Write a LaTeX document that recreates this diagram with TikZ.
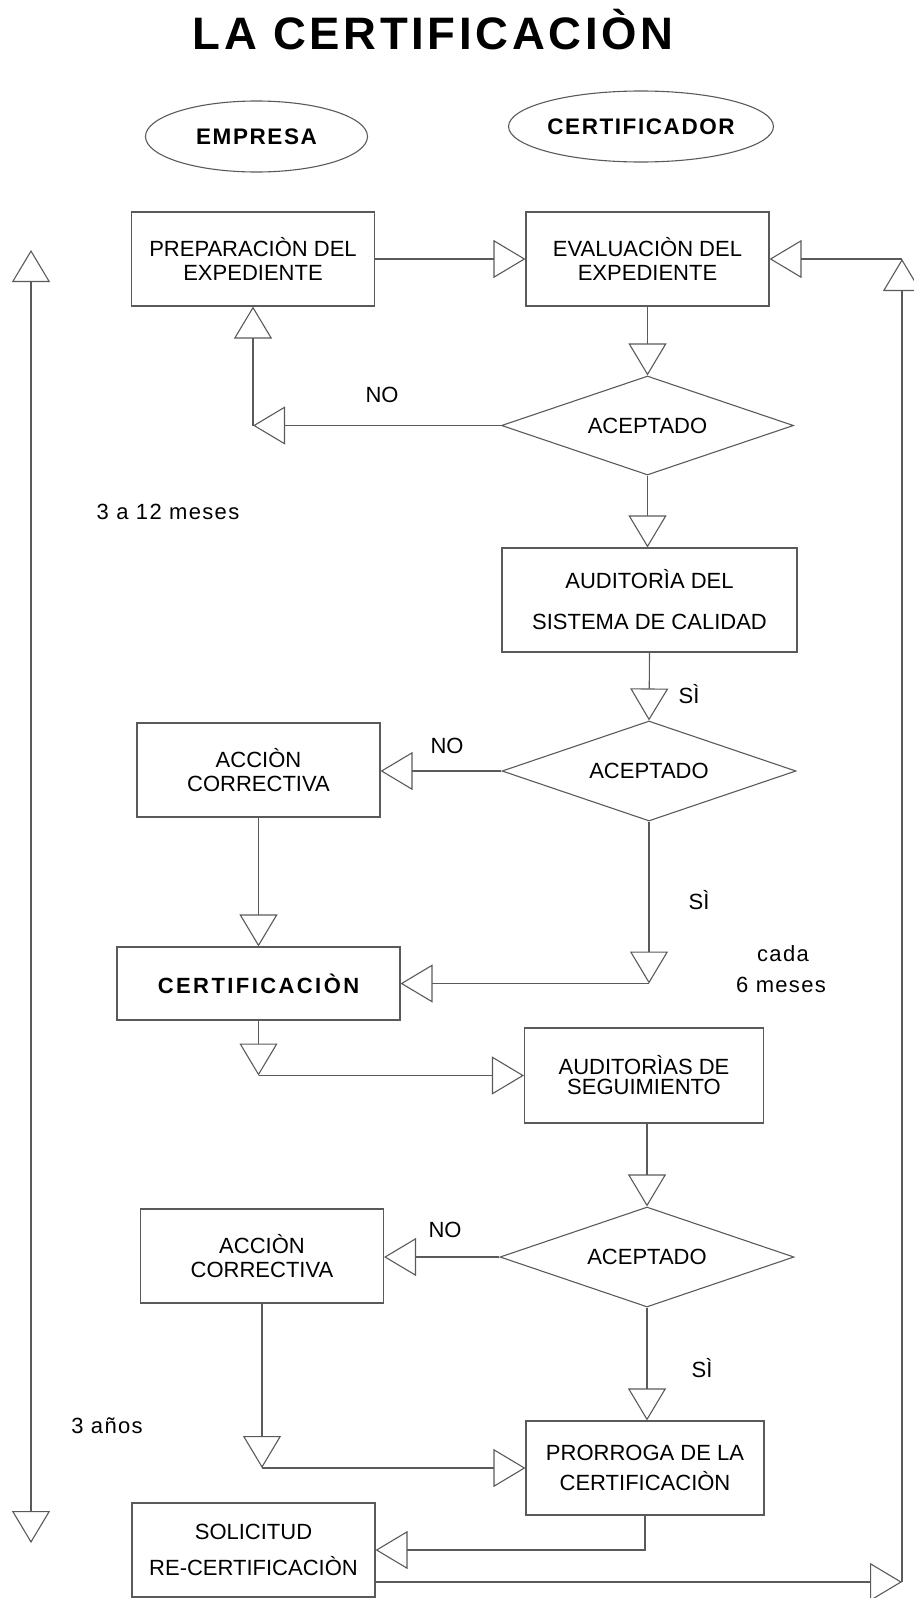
\documentclass[tikz,border=0pt]{standalone}
\usepackage{fontspec}
\setmainfont{Liberation Sans}
\usetikzlibrary{positioning, arrows.meta, shapes}
\definecolor{Borde}{RGB}{90, 90, 90}

\begin{document}
\begin{tikzpicture}[x=1pt, y=-1pt, line width=1.1pt]
        \tikzstyle{caja} = [rectangle, draw=Borde, inner sep=0pt, align=center,
          minimum width=243pt, minimum height=94pt, font=\fontsize{22}{24}\selectfont]
        \tikzstyle{rombo} = [diamond, draw=Borde, inner sep=0pt, aspect=2.94,
          minimum width=294pt, minimum height=100pt, font=\fontsize{22}{24}\selectfont]
        \tikzstyle{elipse} = [ellipse, draw=Borde, inner sep=0pt, minimum width=222pt,
          minimum height=71pt, font=\fontsize{22.5}{24}\selectfont\bfseries\addfontfeature{LetterSpace=7}]
        \tikzstyle{flecha} = [draw=Borde, -{Triangle[open, length=32pt, width=38pt]}]
        \tikzstyle{doble} = [draw=Borde, {Triangle[open, length=32pt, width=38pt]}-{Triangle[open, length=32pt, width=38pt]}]
        \tikzstyle{etiqueta} = [anchor=base, font=\fontsize{22}{24}\selectfont]
        \tikzstyle{nota} = [anchor=base, font=\fontsize{22}{24}\selectfont\addfontfeature{LetterSpace=6}]

        \useasboundingbox (0,0) rectangle (913,1598);

        \node[anchor=base, font=\fontsize{45.5}{48}\selectfont\bfseries\addfontfeature{LetterSpace=8}]
          (titulo) at (433, 49) {LA CERTIFICACIÒN};

        \node[elipse] (empresa) at (256.5, 136.5) {EMPRESA};
        \node[elipse] (certificador) at (641, 126.5) {CERTIFICADOR};

        \node[caja] (prep) at (253, 259) {PREPARACIÒN DEL\\EXPEDIENTE};
        \node[caja] (eval) at (647.5, 259) {EVALUACIÒN DEL\\EXPEDIENTE};
        \node[rombo, minimum width=292pt, minimum height=99pt] (acep1) at (647.5, 425.5) {ACEPTADO};
        \node[caja, minimum width=295pt, minimum height=104pt] (audit) at (649.5, 600)
          {AUDITORÌA DEL\\[17pt]SISTEMA DE CALIDAD};
        \node[rombo] (acep2) at (649, 771) {ACEPTADO};
        \node[caja] (accion1) at (258.5, 770) {ACCIÒN\\CORRECTIVA};
        \node[caja, minimum width=283pt, minimum height=73pt,
          font=\fontsize{22}{24}\selectfont\bfseries\addfontfeature{LetterSpace=11}]
          (cert) at (258.5, 983.5) {\raisebox{-7pt}{CERTIFICACIÒN}};
        \node[caja, minimum width=239pt, minimum height=95pt] (seguim) at (644, 1075.5)
          {AUDITORÌAS DE\\[-4pt]SEGUIMIENTO};
        \node[rombo] (acep3) at (647, 1257) {ACEPTADO};
        \node[caja] (accion2) at (262, 1256) {ACCIÒN\\CORRECTIVA};
        \node[caja, minimum width=238pt] (prorroga) at (645, 1468)
          {PRORROGA DE LA\\[6pt]CERTIFICACIÒN};
        \node[caja] (solicitud) at (253.5, 1550) {SOLICITUD\\[12pt]RE-CERTIFICACIÒN};

        \foreach \x/\y [count=\i] in {382/402, 447/753, 445/1237}
          \node[etiqueta] (no\i) at (\x, \y) {NO};
        \foreach \x/\y [count=\i] in {689/703, 699/909, 702/1377}
          \node[etiqueta] (si\i) at (\x, \y) {SÌ};

        \node[nota] (meses) at (168, 519) {3 a 12 meses};
        \node[nota] (cada) at (783, 961) {cada};
        \node[nota] (seis) at (781, 992) {6 meses};
        \node[nota] (anos) at (107, 1433) {3 años};

        \coordinate (retorno) at (prep.south |- acep1.west);
        \coordinate (bajada) at (acep2.south |- cert.east);
        \coordinate (salida) at (cert.south |- seguim.west);
        \coordinate (vuelta) at (accion2.south |- prorroga.west);
        \coordinate (esquina) at (902, 1582);
        \coordinate (cima) at (902, 259);
        \coordinate (arriba) at (31, 250);
        \coordinate (abajo) at (31, 1543);

        \draw[flecha] (prep.east) -- (eval.west);
        \draw[flecha] (eval.south) -- (acep1.north);
        \draw[flecha] (acep1.west) -- (retorno);
        \draw[flecha] (retorno) -- (prep.south);
        \draw[flecha] (acep1.south) -- (acep1.south |- audit.north);
        \draw[flecha] (audit.south) -- (acep2.north);
        \draw[flecha] (acep2.west) -- (acep2.west -| accion1.east);
        \draw[flecha] (accion1.south) -- (cert.north);
        \draw[flecha] (acep2.south) -- (bajada);
        \draw[flecha] (bajada) -- (cert.east);
        \draw[flecha] (cert.south) -- (salida);
        \draw[flecha] (salida) -- (seguim.west);
        \draw[flecha] (seguim.south -| acep3.north) -- (acep3.north);
        \draw[flecha] (acep3.west) -- (acep3.west -| accion2.east);
        \draw[flecha] (acep3.south) -- (acep3.south |- prorroga.north);
        \draw[flecha] (accion2.south) -- (vuelta);
        \draw[flecha] (vuelta) -- (prorroga.west);
        \draw[flecha] (prorroga.south) |- (solicitud.east);
        \draw[flecha] (solicitud.east |- esquina) -- (esquina);
        \draw[flecha] (esquina) -- (cima);
        \draw[flecha] (cima) -- (eval.east);
        \draw[doble] (arriba) -- (abajo);
      \end{tikzpicture}
\end{document}
